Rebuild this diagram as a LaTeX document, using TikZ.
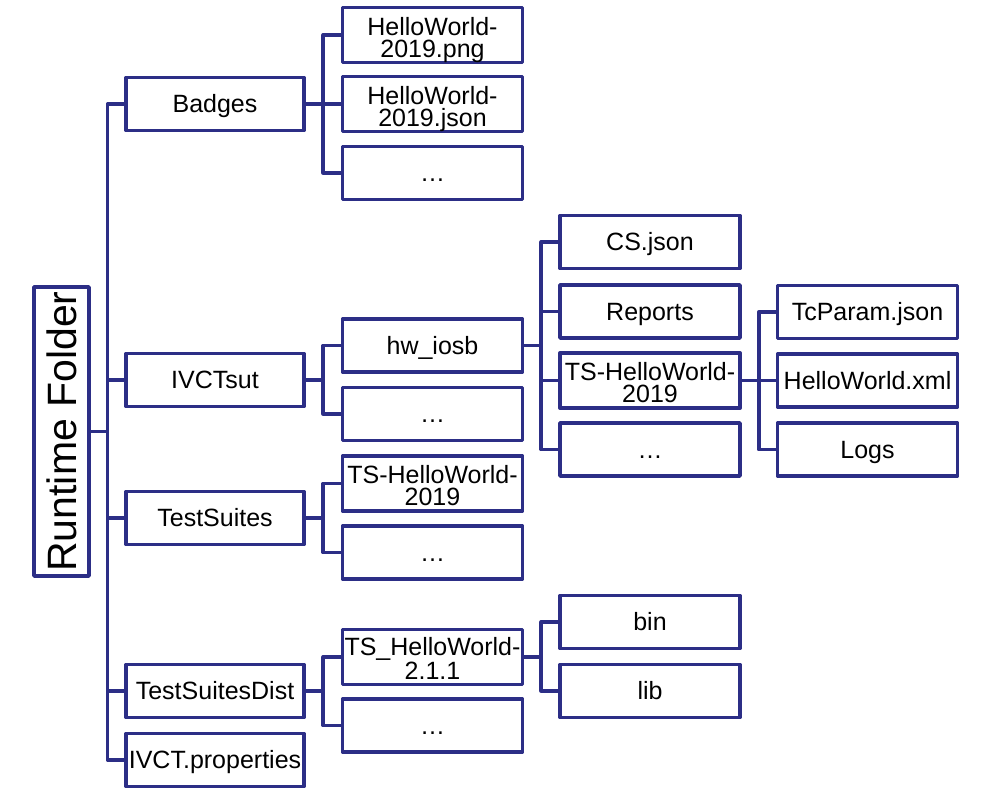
\documentclass[tikz,border=0pt]{standalone}
\usepackage{fontspec}
\setmainfont{Liberation Sans}
\usetikzlibrary{calc}
\definecolor{navy}{RGB}{44,46,134}
\begin{document}
\begin{tikzpicture}[x=1pt,y=-1pt,
  box/.style={draw=navy, line width=3.6pt, line join=round, minimum width=180pt, minimum height=53pt,
    inner sep=0pt, align=center, font=\fontsize{25pt}{22pt}\selectfont, text=black,
    text height=22.6pt, text depth=5.3pt},
  twoline/.style={text height=50pt, text depth=5.3pt},
  conn/.style={draw=navy, line width=3.6pt, line join=round}]
\useasboundingbox (0,0) rectangle (992,790);
% root
\node[draw=navy, line width=3.6pt, line join=round, minimum width=55pt, minimum height=289pt, inner sep=0pt,
  font=\fontsize{41pt}{41pt}\selectfont] (root) at (61.5,431.5) {\rotatebox{90}{Runtime Folder}};
% level 1
\node[box, minimum width=178pt] (badges) at (215,104) {Badges};
\node[box, minimum width=178pt] (ivctsut) at (215,380) {IVCTsut};
\node[box, minimum width=178pt] (tsuites) at (215,518) {TestSuites};
\node[box, minimum width=178pt] (tsdist) at (215,691) {TestSuitesDist};
\node[box, minimum width=178pt] (props) at (215,760) {IVCT.properties};
% level 2
\node[box, twoline] (png) at (432.5,35) {HelloWorld-\\2019.png};
\node[box, twoline] (json) at (432.5,104) {HelloWorld-\\2019.json};
\node[box] (bdots) at (432.5,173) {…};
\node[box] (hw) at (432.5,345.5) {hw\_iosb};
\node[box] (hwdots) at (432.5,414) {…};
\node[box, twoline] (tshw) at (432.5,483.5) {TS-HelloWorld-\\2019};
\node[box] (tsdots) at (432.5,552.5) {…};
\node[box, twoline] (tsu) at (432.5,657) {TS\_HelloWorld-\\2.1.1};
\node[box] (tsudots) at (432.5,725.5) {…};
% level 3
\node[box] (cs) at (650,242) {CS.json};
\node[box] (reports) at (650,311.5) {Reports};
\node[box, twoline] (tshw3) at (650,380.5) {TS-HelloWorld-\\2019};
\node[box] (hw3dots) at (650,449.5) {…};
\node[box] (bin) at (650,622) {bin};
\node[box] (lib) at (650,691) {lib};
% level 4
\node[box] (tcp) at (867.5,312) {TcParam.json};
\node[box] (hwxml) at (867.5,380.5) {HelloWorld.xml};
\node[box] (logs) at (867.5,449.5) {Logs};
% connectors
\foreach \p/\c in {root/badges,root/ivctsut,root/tsuites,root/tsdist,root/props,
  badges/png,badges/json,badges/bdots,
  ivctsut/hw,ivctsut/hwdots,
  tsuites/tshw,tsuites/tsdots,
  tsdist/tsu,tsdist/tsudots,
  hw/cs,hw/reports,hw/tshw3,hw/hw3dots,
  tsu/bin,tsu/lib,
  tshw3/tcp,tshw3/hwxml,tshw3/logs}
  \draw[conn] (\p.east) -- ($(\p.east)!0.5!(\p.east-|\c.west)$) |- (\c.west);
\end{tikzpicture}
\end{document}
